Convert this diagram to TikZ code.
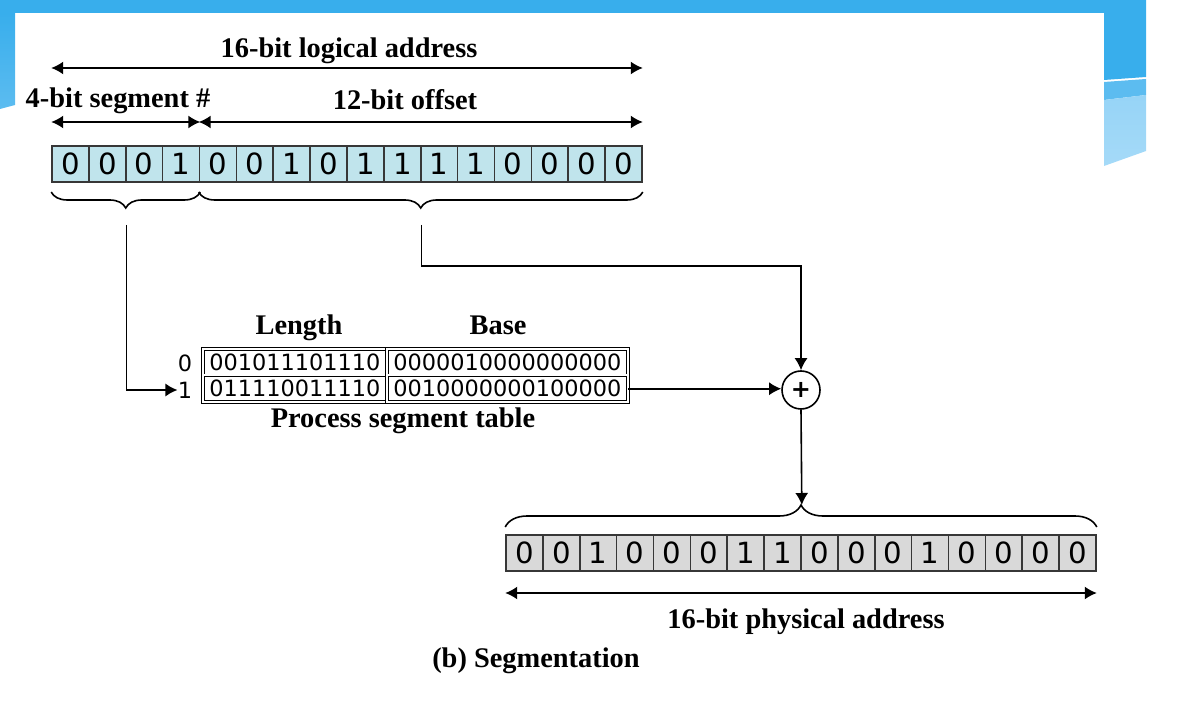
\documentclass[tikz,border=0pt]{standalone}
\usepackage{fontspec}
\setmainfont{Liberation Serif}
\newfontfamily\bitfont{DejaVu Sans}
\usetikzlibrary{arrows.meta,decorations.pathreplacing}

\definecolor{slideblue}{RGB}{56,174,236}
\definecolor{slidemid}{RGB}{92,188,240}
\definecolor{slidepale}{RGB}{165,218,248}
\definecolor{logicalfill}{RGB}{192,228,236}
\definecolor{physicalfill}{RGB}{217,217,217}
\definecolor{cellline}{RGB}{55,55,55}

\tikzstyle{caption}=[font=\bfseries\fontsize{14.2}{16}\selectfont,anchor=base,inner sep=0pt]
\tikzstyle{bitcell}=[draw=cellline,line width=0.8pt,minimum width=18.44pt,minimum height=18pt,inner sep=0pt,font=\bitfont\fontsize{14.6}{16}\selectfont]
\tikzstyle{segcell}=[draw,double,double distance=1pt,line width=0.45pt,minimum height=13.25pt,inner sep=0pt,font=\bitfont\fontsize{11.2}{13}\selectfont]
\tikzstyle{rowlabel}=[inner sep=0pt,font=\bitfont\fontsize{11.2}{13}\selectfont]
\tikzstyle{orientedarc}=[->,>={Latex[length=6pt,width=6.5pt]},line width=0.8pt]
\tikzstyle{span}=[<->,>={Latex[length=6pt,width=6.5pt]},line width=0.8pt]
\tikzstyle{underbrace}=[decorate,decoration={brace,amplitude=8pt,mirror},line width=0.8pt]
\tikzstyle{overbrace}=[decorate,decoration={brace,amplitude=11pt},line width=0.8pt]

\begin{document}
\begin{tikzpicture}[x=0.5pt,y=-0.5pt]

\useasboundingbox (0,0) rectangle (1187,710);

% slide frame
\fill[slideblue] (0,0) rectangle (1146,13);
\shade[top color=slideblue,bottom color=slidemid] (0,13) -- (15,13) -- (15,105) -- (0,109) -- cycle;
\fill[slideblue] (1104,0) -- (1146,0) -- (1146,77) -- (1104,80) -- cycle;
\fill[slidemid] (1104,82) -- (1146,79) -- (1146,95) -- (1104,100) -- cycle;
\shade[top color=slidepale!80!slidemid,bottom color=slidepale] (1104,100) -- (1146,95) -- (1146,151) -- (1104,166) -- cycle;

% logical address
\foreach \bit [count=\i] in {0,0,0,1,0,0,1,0,1,1,1,1,0,0,0,0}
  \node[bitcell,fill=logicalfill] (lg\i) at ({52+(\i-0.5)*36.875},164) {\bit};

\node[caption] (logtxt) at (349,58) {16-bit logical address};
\node[caption] (segtxt) at (118,108) {4-bit segment \#};
\node[caption] (offtxt) at (405,110) {12-bit offset};

\draw[span] (lg1.west |- 0,68) -- (lg16.east |- 0,68);
\draw[span] (lg1.west |- 0,122) -- (lg4.east |- 0,122);
\draw[span] (lg5.west |- 0,122) -- (lg16.east |- 0,122);

\draw[underbrace] (lg1.south west |- 0,192) -- (lg4.south east |- 0,192);
\draw[underbrace] (lg5.south west |- 0,192) -- (lg16.south east |- 0,192);
\coordinate (segtip) at (lg2.south east |- 0,225);
\coordinate (offtip) at (lg10.south east |- 0,225);

% segment table
\node[segcell,minimum width=92pt] (len0) at (295,362.25) {001011101110};
\node[segcell,minimum width=120.5pt] (base0) at (507.5,362.25) {0000010000000000};
\node[segcell,minimum width=92pt] (len1) at (295,388.75) {011110011110};
\node[segcell,minimum width=120.5pt] (base1) at (507.5,388.75) {0010000000100000};
\node[rowlabel] (row0) at (185,363) {0};
\node[rowlabel] (row1) at (185,390) {1};
\node[caption] (lentxt) at (299,335) {Length};
\node[caption] (basetxt) at (498,335) {Base};
\node[caption] (tabtxt) at (403,428) {Process segment table};

% adder
\node[draw,circle,line width=0.8pt,minimum size=19pt,inner sep=0pt,font=\bitfont\bfseries\fontsize{12}{12}\selectfont] (plus) at (801,390) {+};

% physical address
\foreach \bit [count=\i] in {0,0,1,0,0,0,1,1,0,0,0,1,0,0,0,0}
  \node[bitcell,fill=physicalfill] (ph\i) at ({506+(\i-0.5)*36.875},553) {\bit};

\draw[overbrace] (ph1.north west |- 0,527) -- (ph16.north east |- 0,527);
\coordinate (phystip) at (ph8.north east |- 0,505);
\draw[span] (ph1.west |- 0,593) -- (ph16.east |- 0,593);
\node[caption] (phystxt) at (806,628) {16-bit physical address};
\node[caption] (figtxt) at (536,667) {(b) Segmentation};

% connectors
\draw[orientedarc] (segtip) |- (row1.west);
\draw[orientedarc] (offtip) -- ++(0,41) -| (plus.north);
\draw[orientedarc] (base1.east) -- (base1.east -| plus.west);
\draw[orientedarc] (plus.south) -- (phystip);

\end{tikzpicture}
\end{document}
